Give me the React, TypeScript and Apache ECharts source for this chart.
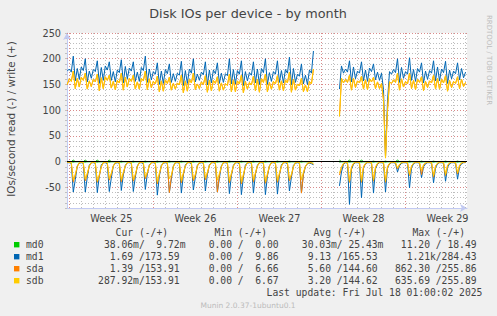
import React, { useEffect, useRef } from 'react';
import * as echarts from 'echarts';

// Time axis in days from Sun 15 Jun 2025 00:00; samples every 4 h from Sat 20:00.
const XMIN = -0.19;
const XMAX = 33.12;
const T0 = -1 / 6;
const STEP = 1 / 6;
const N = null;

const weekLabels = ['Week 25', 'Week 26', 'Week 27', 'Week 28', 'Week 29'];
const weekMids = [3.5, 10.5, 17.5, 24.5, 31.5];
const weekStarts = [0, 7, 14, 21, 28];
const dayLines = [0, 1, 2, 3, 4, 5, 6, 7, 8, 9, 10, 11, 12, 13, 14, 15, 16, 17, 18, 19, 20, 21, 22, 23, 24, 25, 26, 27, 28, 29, 30, 31, 32, 33];
const majorY = [-50, 0, 50, 100, 150, 200, 250];

// write (+), per day rows of 00,04,08,12,16,20 h
const md1Write = [
  [176],
  [180, 174, 205, 157, 181, 160], [184, 177, 200, 155, 176, 162], [179, 175, 196, 152, 183, 158],
  [186, 178, 194, 158, 175, 155], [178, 173, 198, 153, 185, 161], [182, 176, 194, 156, 174, 156],
  [183, 177, 205, 154, 180, 159], [175, 170, 192, 150, 176, 152], [179, 171, 190, 154, 171, 156],
  [172, 168, 195, 148, 177, 152], [180, 172, 200, 155, 170, 158], [174, 169, 194, 149, 178, 153],
  [178, 171, 192, 152, 172, 154], [171, 167, 200, 151, 179, 151], [177, 170, 196, 148, 175, 157],
  [173, 168, 194, 153, 180, 150], [181, 173, 200, 150, 173, 156], [175, 170, 196, 154, 177, 153],
  [179, 172, 203, 149, 181, 154], [170, 166, 190, 151, 168, 150], [178, 172, 215, N, N, N],
  [N, N, N, N, N, N], [N, N, N, 141, 186, 172], [180, 174, 196, 155, 184, 161],
  [176, 172, 194, 157, 178, 156], [182, 175, 190, 159, 174, 158], [172, 140, 10, 118, 175, 170],
  [179, 173, 200, 154, 183, 162], [175, 170, 202, 158, 179, 156], [181, 174, 192, 153, 176, 160],
  [177, 172, 196, 157, 184, 157], [180, 173, 195, 152, 178, 161], [176, 171, 192, 159, 181, 163],
  [174],
].flat();

const sdbWrite = [
  [150],
  [161, 156, 176, 142, 162, 145], [164, 158, 172, 141, 157, 146], [160, 155, 170, 138, 163, 142],
  [165, 158, 168, 143, 156, 140], [158, 153, 172, 139, 164, 145], [162, 156, 168, 141, 155, 141],
  [162, 157, 176, 140, 161, 144], [156, 151, 166, 136, 157, 137], [159, 152, 164, 139, 152, 141],
  [153, 149, 168, 134, 157, 137], [160, 153, 172, 140, 151, 142], [155, 150, 167, 135, 158, 138],
  [158, 152, 165, 137, 153, 139], [152, 148, 170, 136, 159, 136], [157, 151, 168, 134, 156, 141],
  [154, 149, 166, 138, 160, 135], [161, 154, 170, 136, 154, 141], [156, 151, 167, 139, 157, 138],
  [159, 153, 174, 135, 160, 139], [151, 147, 162, 136, 149, 136], [156, 151, 180, N, N, N],
  [N, N, N, N, N, N], [N, N, N, 88, 162, 153], [160, 154, 168, 139, 162, 144],
  [157, 153, 166, 141, 159, 140], [161, 155, 164, 142, 155, 142], [152, 120, 7, 100, 155, 152],
  [159, 154, 172, 139, 161, 145], [156, 151, 172, 142, 158, 140], [160, 154, 165, 138, 156, 144],
  [157, 153, 168, 141, 162, 141], [160, 153, 167, 137, 158, 144], [156, 152, 165, 142, 160, 146],
  [154],
].flat();

// sda and sdb are mirrors: their writes coincide in the picture
const sdaWrite = sdbWrite;

const md0Write = [
  [0],
  [0, 0, 3, 0, 0, 0], [0, 0, 3, 0, 0, 0], [0, 0, 3, 0, 0, 0], [0, 0, 3, 0, 0, 0],
  [0, 0, 1, 0, 0, 0], [0, 0, 1, 0, 0, 0], [0, 0, 1, 0, 0, 0], [0, 0, 1, 0, 0, 0],
  [0, 0, 1, 0, 0, 0], [0, 0, 1, 0, 0, 0], [0, 0, 1, 0, 0, 0], [0, 0, 1, 0, 0, 0],
  [0, 0, 1, 0, 0, 0], [0, 0, 1, 0, 0, 0], [0, 0, 1, 0, 0, 0], [0, 0, 1, 0, 0, 0],
  [0, 0, 1, 0, 0, 0], [0, 0, 1, 0, 0, 0], [0, 0, 1, 0, 0, 0], [0, 0, 1, 0, 0, 0],
  [0, 0, 0, N, N, N], [N, N, N, N, N, N], [N, N, N, 3, 0, 0], [0, 0, 3, 0, 0, 0],
  [0, 0, 3, 0, 0, 0], [0, 0, 1, 0, 0, 0], [0, 0, 1, 0, 0, 0], [0, 0, 3, 0, 0, 0],
  [0, 0, 1, 0, 0, 0], [0, 0, 1, 0, 0, 0], [0, 0, 1, 0, 0, 0], [0, 0, 1, 0, 0, 0],
  [0, 0, 1, 0, 0, 0], [0],
].flat();

// read (-), positive magnitudes as in the legend
const md0Read = [
  [0],
  [0, 0, 1, 0, 0, 0], [0, 0, 1, 0, 0, 0], [0, 0, 1, 0, 0, 0], [0, 0, 1, 0, 0, 0],
  [0, 0, 1, 0, 0, 0], [0, 0, 1, 0, 0, 0], [0, 0, 1, 0, 0, 0], [0, 0, 1, 0, 0, 0],
  [0, 0, 1, 0, 0, 0], [0, 0, 1, 0, 0, 0], [0, 0, 1, 0, 0, 0], [0, 0, 1, 0, 0, 0],
  [0, 0, 1, 0, 0, 0], [0, 0, 1, 0, 0, 0], [0, 0, 1, 0, 0, 0], [0, 0, 1, 0, 0, 0],
  [0, 0, 1, 0, 0, 0], [0, 0, 1, 0, 0, 0], [0, 0, 1, 0, 0, 0], [0, 0, 1, 0, 0, 0],
  [0, 0, 0, N, N, N], [N, N, N, N, N, N], [N, N, N, 1, 0, 0], [0, 0, 1, 0, 0, 0],
  [0, 0, 1, 0, 0, 0], [0, 0, 1, 0, 0, 0], [0, 0, 1, 0, 0, 0], [0, 0, 1, 0, 0, 0],
  [0, 0, 1, 0, 0, 0], [0, 0, 1, 0, 0, 0], [0, 0, 1, 0, 0, 0], [0, 0, 1, 0, 0, 0],
  [0, 0, 1, 0, 0, 0], [0.04],
].flat();

const md1Read = [
  [2],
  [2, 3, 59, 35, 8, 3], [2, 3, 59, 30, 7, 2], [2, 3, 60, 28, 6, 2], [2, 4, 58, 32, 8, 3],
  [2, 3, 56, 26, 7, 2], [2, 3, 58, 30, 8, 2], [2, 4, 54, 24, 6, 2], [2, 3, 65, 28, 7, 3],
  [2, 3, 60, 34, 8, 2], [2, 3, 61, 26, 6, 2], [2, 4, 55, 30, 7, 3], [2, 3, 57, 25, 6, 2],
  [2, 3, 59, 32, 8, 2], [2, 3, 62, 27, 7, 2], [2, 4, 64, 30, 6, 3], [2, 3, 61, 24, 7, 2],
  [2, 3, 64, 28, 8, 2], [2, 3, 63, 26, 6, 2], [2, 4, 57, 30, 7, 3], [2, 3, 61, 25, 9, 4],
  [3, 4, 6, N, N, N], [N, N, N, N, N, N], [N, N, N, 47, 20, 5], [2, 3, 83, 15, 5, 2],
  [2, 3, 70, 12, 4, 2], [2, 3, 61, 14, 5, 2], [2, 3, 59, 12, 4, 2], [2, 3, 20, 8, 3, 2],
  [2, 3, 51, 12, 4, 2], [2, 3, 31, 10, 4, 2], [2, 3, 41, 12, 4, 2], [2, 3, 38, 11, 4, 2],
  [2, 3, 34, 10, 4, 2], [1.69],
].flat();

const sdaRead = [
  [1],
  [1, 2, 39, 27, 10, 2], [1, 2, 37, 25, 9, 2], [1, 2, 40, 28, 10, 2], [1, 2, 36, 25, 9, 2],
  [1, 2, 39, 23, 9, 2], [1, 2, 38, 27, 10, 2], [1, 2, 33, 23, 8, 2], [1, 2, 43, 25, 9, 2],
  [1, 2, 60, 29, 10, 2], [1, 2, 41, 24, 9, 2], [1, 2, 37, 27, 9, 2], [1, 2, 35, 23, 8, 2],
  [1, 2, 59, 26, 10, 2], [1, 2, 41, 25, 9, 2], [1, 2, 43, 27, 10, 2], [1, 2, 39, 24, 9, 2],
  [1, 2, 42, 26, 9, 2], [1, 2, 40, 25, 9, 2], [1, 2, 37, 27, 10, 2], [1, 2, 61, 23, 10, 3],
  [2, 2, 5, N, N, N], [N, N, N, N, N, N], [N, N, N, 26, 12, 4], [1, 2, 40, 12, 4, 1],
  [1, 2, 40, 11, 4, 1], [1, 2, 38, 12, 4, 1], [1, 2, 40, 11, 4, 1], [1, 2, 14, 6, 2, 1],
  [1, 2, 27, 9, 3, 1], [1, 2, 25, 7, 3, 1], [1, 2, 30, 9, 3, 1], [1, 2, 27, 8, 3, 1],
  [1, 2, 24, 8, 3, 1], [1.39],
].flat();

const sdbRead = [
  [1],
  [1, 2, 36, 24, 9, 2], [1, 2, 34, 22, 8, 2], [1, 2, 38, 25, 9, 2], [1, 2, 33, 22, 8, 2],
  [1, 2, 36, 20, 8, 2], [1, 2, 35, 24, 9, 2], [1, 2, 30, 20, 7, 2], [1, 2, 40, 22, 8, 2],
  [1, 2, 33, 26, 9, 2], [1, 2, 38, 21, 8, 2], [1, 2, 34, 24, 8, 2], [1, 2, 32, 20, 7, 2],
  [1, 2, 36, 23, 9, 2], [1, 2, 38, 22, 8, 2], [1, 2, 40, 24, 9, 2], [1, 2, 36, 21, 8, 2],
  [1, 2, 39, 23, 8, 2], [1, 2, 37, 22, 8, 2], [1, 2, 34, 24, 9, 2], [1, 2, 35, 20, 9, 3],
  [2, 2, 4, N, N, N], [N, N, N, N, N, N], [N, N, N, 22, 10, 3], [1, 2, 38, 10, 3, 1],
  [1, 2, 38, 9, 3, 1], [1, 2, 36, 10, 3, 1], [1, 2, 38, 9, 3, 1], [1, 2, 12, 5, 2, 1],
  [1, 2, 25, 8, 3, 1], [1, 2, 17, 6, 2, 1], [1, 2, 28, 8, 3, 1], [1, 2, 25, 7, 2, 1],
  [1, 2, 22, 7, 2, 1], [0.29],
].flat();

const devices = ['md0', 'md1', 'sda', 'sdb'];
const deviceColors = ['#00CC00', '#0066B3', '#FF8000', '#FFCC00'];
const headers = ['Cur (-/+)', 'Min (-/+)', 'Avg (-/+)', 'Max (-/+)'];
const curVals = [['38.06m', '9.72m'], ['1.69', '173.59'], ['1.39', '153.91'], ['287.92m', '153.91']];
const minVals = [['0.00', '0.00'], ['0.00', '9.86'], ['0.00', '6.66'], ['0.00', '6.67']];
const avgVals = [['30.03m', '25.43m'], ['9.13', '165.53'], ['5.60', '144.60'], ['3.20', '144.62']];
const maxVals = [['11.20', '18.49'], ['1.21k', '284.43'], ['862.30', '255.86'], ['635.69', '255.89']];

const TITLE = 'Disk IOs per device - by month';
const YLABEL = 'IOs/second read (-) / write (+)';
const LAST_UPDATE = 'Last update: Fri Jul 18 01:00:02 2025';
const VERSION = 'Munin 2.0.37-1ubuntu0.1';
const WATERMARK = 'RRDTOOL / TOBI OETIKER';

const AXIS = '#C2CAF2';
const MINOR = '#BDBDBD';
const MAJOR = '#D98A8A';
const TXT = '#444';
const SANS = 'DejaVu Sans';
const MONO = 'DejaVu Sans Mono';

function pts(vals: (number | null)[], sign: number) {
  return vals.map((v, k) => [T0 + k * STEP, v == null ? '-' : sign * v]);
}

function txt(text: string, x: number, y: number, o: any = {}) {
  return {
    type: 'text', x, y, rotation: o.rotation || 0, silent: true,
    style: {
      text, fill: o.fill || TXT, fontSize: o.fontSize || 9.7, fontFamily: o.fontFamily || MONO,
      align: o.align || 'left', verticalAlign: 'middle', textAlign: o.align || 'left', textVerticalAlign: 'middle',
    },
  };
}

export default function App() {
  const ref = useRef<HTMLDivElement>(null);
  useEffect(() => {
    const chart = echarts.init(ref.current!, null, { renderer: 'svg', width: 497, height: 316 });

    const CW = 5.82;
    const colStarts = [98.2, 197.1, 296.1, 395.1];
    const rowsY = [244.7, 256.7, 268.7, 280.7];
    const graphics: any[] = [];
    graphics.push(txt(TITLE, 248, 13.5, { fontFamily: SANS, fontSize: 12.8, align: 'center' }));
    graphics.push(txt(YLABEL, 10.5, 119, { fontFamily: SANS, fontSize: 10.4, align: 'center', rotation: Math.PI / 2 }));
    graphics.push(txt(WATERMARK, 488.5, 60, { fontFamily: SANS, fontSize: 7, align: 'center', rotation: -Math.PI / 2, fill: '#BDBDBD' }));
    headers.forEach((h, c) => graphics.push(txt(h, colStarts[c] + 7.5 * CW, 232.7, { align: 'center' })));
    const cols = [curVals, minVals, avgVals, maxVals];
    devices.forEach((d, r) => {
      const y = rowsY[r];
      graphics.push({ type: 'rect', silent: true, shape: { x: 14, y: y - 2.7, width: 5.4, height: 5.4 }, style: { fill: deviceColors[r] } });
      graphics.push(txt(d, 26, y));
      cols.forEach((col, c) => {
        const S = colStarts[c];
        const [a, b] = col[r];
        const sa = /[a-zA-Z]$/.test(a) ? 1 : 0;
        const sb = /[a-zA-Z]$/.test(b) ? 1 : 0;
        graphics.push(txt(a, S + (6 + sa) * CW, y, { align: 'right' }));
        graphics.push(txt('/', S + 7.5 * CW, y, { align: 'center' }));
        graphics.push(txt(b, S + (14 + sb) * CW, y, { align: 'right' }));
      });
    });
    graphics.push(txt(LAST_UPDATE, colStarts[3] + 15 * CW, 292.3, { align: 'right' }));
    graphics.push(txt(VERSION, 248, 305, { fontFamily: SANS, fontSize: 7.5, align: 'center', fill: '#BBBBBB' }));

    const gridMarks = [
      ...dayLines.map((d) => ({ xAxis: d, lineStyle: { color: weekStarts.includes(d) ? MAJOR : MINOR, type: [1, 2], width: 1 } })),
      ...majorY.map((v) => ({ yAxis: v, lineStyle: { color: MAJOR, type: [1, 2], width: 1 } })),
    ];

    const mk = (name: string, vals: (number | null)[], sign: number, color: string, extra: any = {}) => ({
      name, type: 'line', data: pts(vals, sign), symbol: 'none', showSymbol: false, connectNulls: false,
      lineStyle: { width: 1, color }, itemStyle: { color }, silent: true, z: 2, ...extra,
    });

    const series = [
      mk('md0 read', md0Read, -1, deviceColors[0], {
        markLine: { silent: true, symbol: 'none', label: { show: false }, z: 1, animation: false, data: gridMarks },
      }),
      mk('md0 write', md0Write, 1, deviceColors[0]),
      mk('md1 read', md1Read, -1, deviceColors[1]),
      mk('md1 write', md1Write, 1, deviceColors[1]),
      mk('sda read', sdaRead, -1, deviceColors[2]),
      mk('sda write', sdaWrite, 1, deviceColors[2]),
      mk('sdb read', sdbRead, -1, deviceColors[3]),
      mk('sdb write', sdbWrite, 1, deviceColors[3], {
        markLine: { silent: true, symbol: 'none', label: { show: false }, z: 10, animation: false,
          data: [{ yAxis: 0, lineStyle: { color: '#000000', type: 'solid', width: 1 } }] },
      }),
    ];

    chart.setOption({
      animation: false,
      backgroundColor: '#F0F0F0',
      grid: { left: 67, right: 30, top: 33, bottom: 108, show: true, backgroundColor: '#FFFFFF', borderWidth: 0 },
      xAxis: {
        type: 'value', min: XMIN, max: XMAX,
        axisLine: { show: true, onZero: false, lineStyle: { color: AXIS, width: 1 }, symbol: ['none', 'arrow'], symbolSize: [6, 7] },
        axisTick: { show: false },
        splitLine: { show: false },
        axisLabel: {
          customValues: weekMids,
          formatter: (v: number) => weekLabels[Math.round((v - 3.5) / 7)] || '',
          color: TXT, fontSize: 9.7, fontFamily: SANS, margin: 5,
        },
      },
      yAxis: {
        type: 'value', min: -90, max: 250, interval: 10,
        axisLine: { show: true, onZero: false, lineStyle: { color: AXIS, width: 1 }, symbol: ['none', 'arrow'], symbolSize: [6, 7] },
        axisTick: { show: true, length: 2, lineStyle: { color: '#C0C0C0' } },
        splitLine: { show: true, lineStyle: { color: MINOR, type: [1, 2], width: 1 } },
        axisLabel: {
          formatter: (v: number) => (v % 50 === 0 ? String(v) : ''),
          color: TXT, fontSize: 9.7, fontFamily: SANS, margin: 6,
        },
      },
      series,
      graphic: graphics,
    });
    return () => chart.dispose();
  }, []);
  return <div ref={ref} style={{ position: 'absolute', left: 0, top: 0, width: 497, height: 316 }} />;
}
